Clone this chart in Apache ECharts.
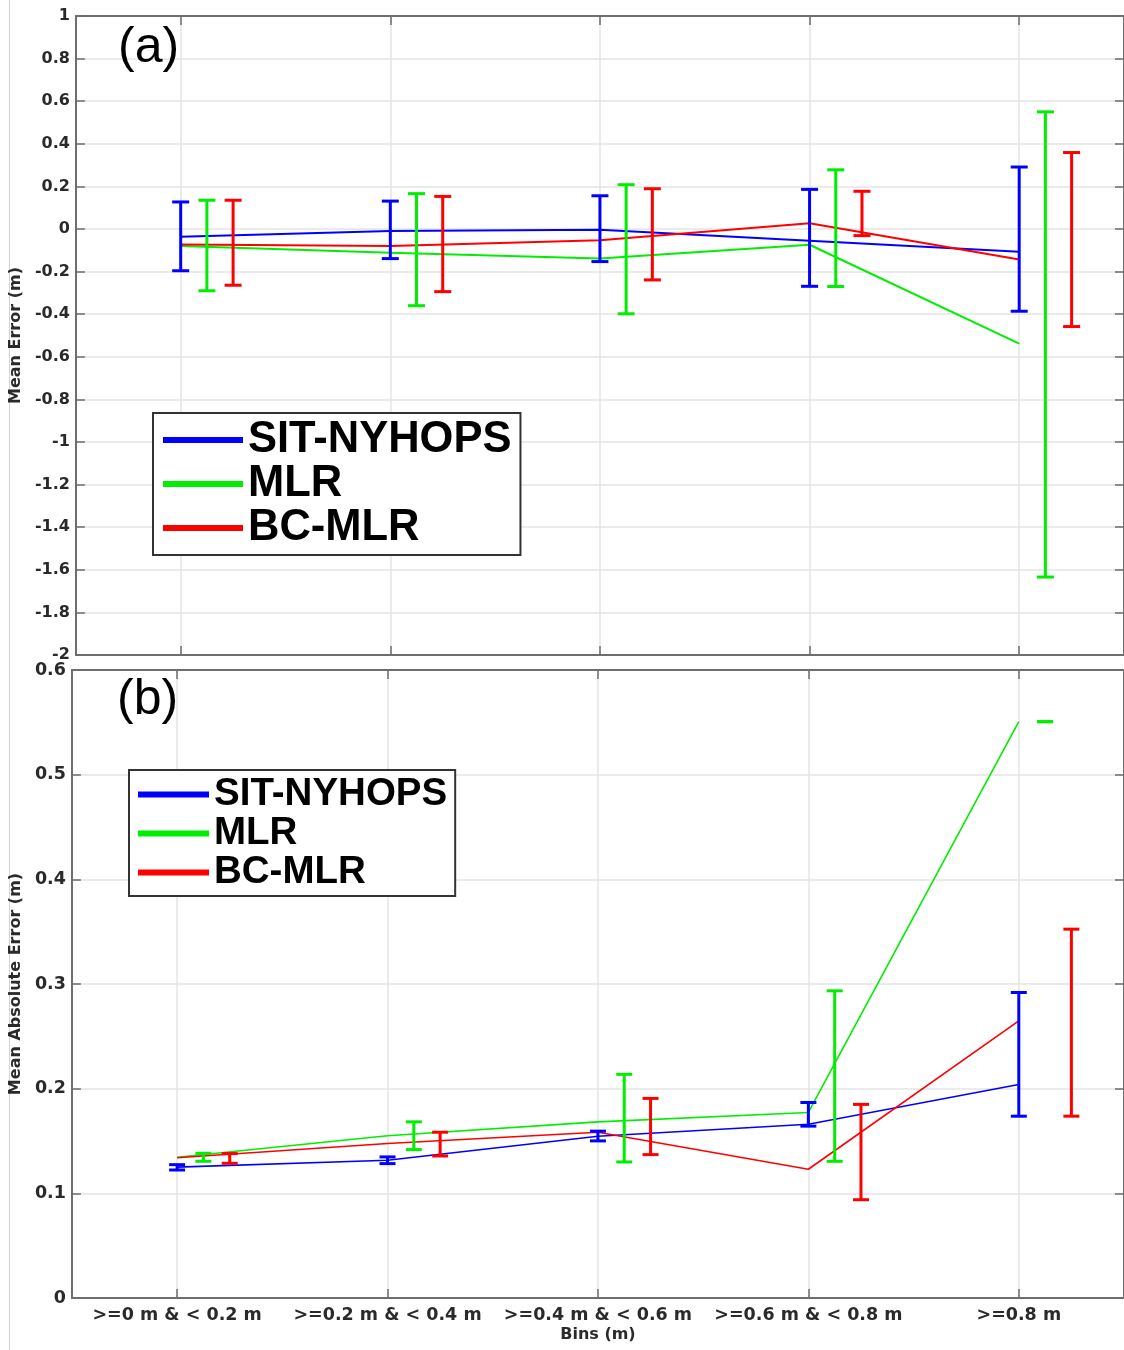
<!DOCTYPE html>
<html>
<head>
<meta charset="utf-8">
<script src="https://cdn.jsdelivr.net/npm/echarts@6/dist/echarts.min.js"></script>
<style>
html,body{margin:0;padding:0;background:#fff;}
#chart{width:1124px;height:1350px;}
</style>
</head>
<body>
<div id="chart"></div>
<script>
// ---------- DATA ----------
const bins = ['>=0 m & < 0.2 m', '>=0.2 m & < 0.4 m', '>=0.4 m & < 0.6 m', '>=0.6 m & < 0.8 m', '>=0.8 m'];
const seriesNames = ['SIT-NYHOPS', 'MLR', 'BC-MLR'];

// (a) Mean error (m): line values
const meanErrSIT = [-0.036, -0.009, -0.003, -0.055, -0.107];
const meanErrMLR = [-0.080, -0.112, -0.138, -0.074, -0.538];
const meanErrBC  = [-0.073, -0.080, -0.053, 0.027, -0.143];
// (a) error bars [low, high]
const meanErrSITBar = [[-0.196, 0.127], [-0.139, 0.131], [-0.153, 0.156], [-0.269, 0.186], [-0.386, 0.291]];
const meanErrMLRBar = [[-0.290, 0.135], [-0.360, 0.166], [-0.398, 0.208], [-0.270, 0.278], [-1.634, 0.550]];
const meanErrBCBar  = [[-0.264, 0.135], [-0.294, 0.153], [-0.239, 0.189], [-0.031, 0.177], [-0.458, 0.359]];

// (b) Mean absolute error (m): line values
const maeSIT = [0.125, 0.1316, 0.1546, 0.166, 0.204];
const maeMLR = [0.1345, 0.155, 0.1683, 0.1773, 0.5506];
const maeBC  = [0.134, 0.1476, 0.1584, 0.123, 0.2648];
// (b) error bars [low, high]
const maeSITBar = [[0.1223, 0.1274], [0.1284, 0.1348], [0.1501, 0.1594], [0.1642, 0.1868], [0.1737, 0.2919]];
const maeMLRBar = [[0.1306, 0.1383], [0.1418, 0.1683], [0.1300, 0.2137], [0.1306, 0.2935], [0.5506, 0.5506]];
const maeBCBar  = [[0.1287, 0.1380], [0.1357, 0.1584], [0.1370, 0.1907], [0.0939, 0.1850], [0.1737, 0.3524]];

const yTicksA = {min: -2, max: 1, interval: 0.2};
const yTicksB = {min: 0, max: 0.6, interval: 0.1};

// ---------- STYLE ----------
const colors = ['#0000ff', '#00ee00', '#ff0000'];
const barShift = [0, 0.125, 0.25];
const axisCol = '#6e6e6e';
const gridCol = '#e4e4e4';
const labelFont = 'DejaVu Sans';
const legendFont = 'Liberation Sans';

function errRender(capHalf, lw) {
  return function (params, api) {
    const x = api.value(0), lo = api.value(1), hi = api.value(2);
    const pLo = api.coord([x, lo]);
    const pHi = api.coord([x, hi]);
    const style = {stroke: api.visual('color'), lineWidth: lw, fill: null};
    return {
      type: 'group',
      children: [
        {type: 'line', shape: {x1: pLo[0], y1: pLo[1], x2: pHi[0], y2: pHi[1]}, style: style},
        {type: 'line', shape: {x1: pLo[0] - capHalf, y1: pLo[1], x2: pLo[0] + capHalf, y2: pLo[1]}, style: style},
        {type: 'line', shape: {x1: pHi[0] - capHalf, y1: pHi[1], x2: pHi[0] + capHalf, y2: pHi[1]}, style: style}
      ]
    };
  };
}

function catAxis(gridIndex, position, showLabels) {
  return {
    type: 'category', gridIndex: gridIndex, position: position, data: bins,
    boundaryGap: true,
    axisLine: {show: true, onZero: false, lineStyle: {color: axisCol, width: 2}},
    axisTick: {show: true, inside: true, alignWithLabel: true, length: 9, lineStyle: {color: axisCol, width: 1.5}},
    axisLabel: {show: showLabels, margin: 8, color: '#2a2a2a', fontFamily: labelFont, fontWeight: 'bold', fontSize: 17.5, interval: 0},
    splitLine: {show: position === 'bottom', alignWithLabel: true, interval: 0, lineStyle: {color: gridCol, width: 1.5}}
  };
}
function hiddenValueX(gridIndex) {
  return {type: 'value', gridIndex: gridIndex, min: 0.5, max: 5.5, show: false,
    axisLine: {show: false, onZero: false}, splitLine: {show: false}, axisTick: {show: false}, axisLabel: {show: false}};
}
function yAxisDef(gridIndex, ticks, position, showLabels, fontSize, name, nameGap) {
  return {
    type: 'value', gridIndex: gridIndex, position: position,
    min: ticks.min, max: ticks.max, interval: ticks.interval,
    name: name || '', nameLocation: 'middle', nameGap: nameGap || 0, nameRotate: 90,
    nameTextStyle: {fontFamily: labelFont, fontWeight: 'bold', fontSize: 16, color: '#2a2a2a'},
    axisLine: {show: true, onZero: false, lineStyle: {color: axisCol, width: 2}},
    axisTick: {show: true, inside: true, length: 9, lineStyle: {color: axisCol, width: 1.5}},
    axisLabel: {show: showLabels, margin: 6, color: '#2a2a2a', fontFamily: labelFont, fontWeight: 'bold', fontSize: fontSize},
    splitLine: {show: position === 'left', lineStyle: {color: gridCol, width: 1.5}}
  };
}

const series = [];
function addPanel(valXIdx, yIdx, lines, bars, lineW, barW, capHalf) {
  lines.forEach(function (vals, k) {
    series.push({
      name: seriesNames[k], type: 'line', xAxisIndex: valXIdx, yAxisIndex: yIdx,
      data: vals.map(function (v, i) { return [i + 1, v]; }),
      showSymbol: false, symbol: 'none', z: 3,
      lineStyle: {color: colors[k], width: lineW}, itemStyle: {color: colors[k]},
      animation: false, silent: true
    });
  });
  bars.forEach(function (b, k) {
    series.push({
      name: seriesNames[k], type: 'custom', xAxisIndex: valXIdx, yAxisIndex: yIdx,
      data: b.map(function (lh, i) { return [i + 1 + barShift[k], lh[0], lh[1]]; }),
      encode: {x: 0, y: [1, 2]}, renderItem: errRender(capHalf, barW),
      itemStyle: {color: colors[k]}, z: 4, animation: false, silent: true
    });
  });
}
addPanel(2, 0, [meanErrSIT, meanErrMLR, meanErrBC], [meanErrSITBar, meanErrMLRBar, meanErrBCBar], 2, 3, 8.5);
addPanel(5, 2, [maeSIT, maeMLR, maeBC], [maeSITBar, maeMLRBar, maeBCBar], 1.6, 3, 8);

function legendDef(left, top, w, h, fs, lh, pad) {
  return {
    show: true, orient: 'vertical', left: left, top: top,
    itemWidth: w, itemHeight: h, itemGap: 0, icon: 'rect', selectedMode: false,
    data: seriesNames,
    padding: pad, borderColor: '#333', borderWidth: 2, backgroundColor: '#fff',
    textStyle: {fontFamily: legendFont, fontWeight: 'bold', fontSize: fs, lineHeight: lh, color: '#000'}
  };
}

const option = {
  animation: false,
  backgroundColor: '#fff',
  grid: [
    {left: 73, top: 16, width: 1054, height: 639},
    {left: 68, top: 670, width: 1060, height: 628}
  ],
  xAxis: [
    catAxis(0, 'bottom', false),
    catAxis(0, 'top', false),
    hiddenValueX(0),
    Object.assign(catAxis(1, 'bottom', true), {
      name: 'Bins (m)', nameLocation: 'middle', nameGap: 29,
      nameTextStyle: {fontFamily: labelFont, fontWeight: 'bold', fontSize: 16, color: '#2a2a2a'}
    }),
    catAxis(1, 'top', false),
    hiddenValueX(1)
  ],
  yAxis: [
    yAxisDef(0, yTicksA, 'left', true, 16, 'Mean Error (m)', 44),
    yAxisDef(0, yTicksA, 'right', false, 16),
    yAxisDef(1, yTicksB, 'left', true, 17.5, 'Mean Absolute Error (m)', 39),
    yAxisDef(1, yTicksB, 'right', false, 17.5)
  ],
  legend: [
    legendDef(153, 413, 80, 6, 43.5, 44, [5, 9, 5, 10]),
    legendDef(129, 770, 71, 6, 38.5, 38, [5, 8, 4, 9])
  ],
  graphic: [
    {type: 'line', shape: {x1: 9.5, y1: 0, x2: 9.5, y2: 1350}, style: {stroke: '#d4d4d4', lineWidth: 1}, silent: true},
    {type: 'text', x: 118, y: 48, style: {text: '(a)', font: 'normal 50px "Liberation Sans"', fill: '#000', verticalAlign: 'middle'}, z: 10},
    {type: 'text', x: 117, y: 700, style: {text: '(b)', font: 'normal 50px "Liberation Sans"', fill: '#000', verticalAlign: 'middle'}, z: 10}
  ],
  series: series
};

const chart = echarts.init(document.getElementById('chart'), null, {renderer: 'canvas'});
chart.setOption(option);
</script>
</body>
</html>
